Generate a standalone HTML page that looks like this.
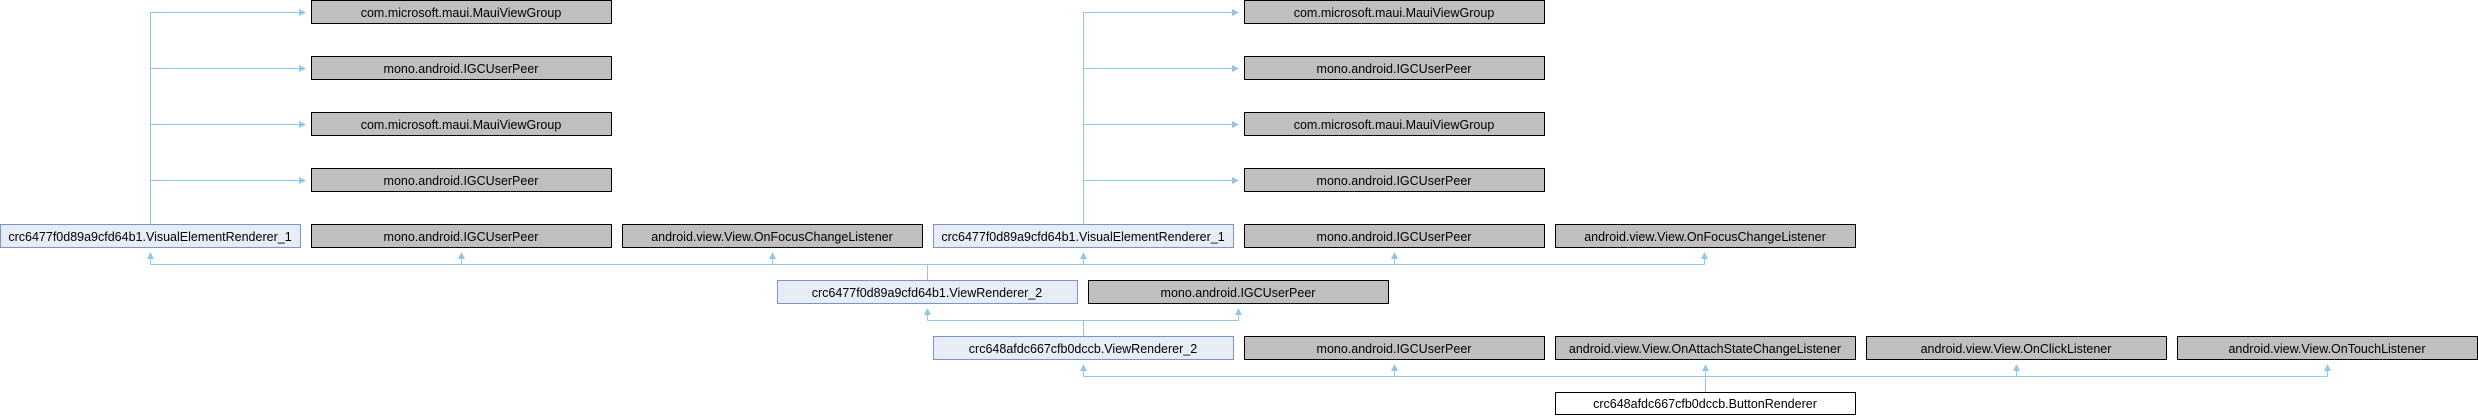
<!DOCTYPE html>
<html><head><meta charset="utf-8"><style>
html,body{margin:0;padding:0;background:#fff;}
svg{display:block;}
text{font-family:"Liberation Sans",sans-serif;font-size:12.5px;fill:#000;text-anchor:middle;}
</style></head><body>
<svg width="2478" height="416" viewBox="0 0 2478 416" xmlns="http://www.w3.org/2000/svg">
<defs>
<marker id="a" markerWidth="7" markerHeight="7" refX="6" refY="3.5" orient="auto" markerUnits="userSpaceOnUse">
<path d="M0,0 L7,3.5 L0,7 z" fill="#90c8ea"/>
</marker>
</defs>
<g stroke="#90c8ea" stroke-width="1" fill="none">
<path d="M150.5,224 V12.5 H305" marker-end="url(#a)"/>
<path d="M150.5,68.5 H305" marker-end="url(#a)"/>
<path d="M150.5,124.5 H305" marker-end="url(#a)"/>
<path d="M150.5,180.5 H305" marker-end="url(#a)"/>
<path d="M1083.5,224 V12.5 H1238" marker-end="url(#a)"/>
<path d="M1083.5,68.5 H1238" marker-end="url(#a)"/>
<path d="M1083.5,124.5 H1238" marker-end="url(#a)"/>
<path d="M1083.5,180.5 H1238" marker-end="url(#a)"/>
<path d="M150.5,264.5 H1704.5"/>
<path d="M927.5,280 V264.5"/>
<path d="M150.5,264.5 V253" marker-end="url(#a)"/>
<path d="M461.5,264.5 V253" marker-end="url(#a)"/>
<path d="M772.5,264.5 V253" marker-end="url(#a)"/>
<path d="M1083.5,264.5 V253" marker-end="url(#a)"/>
<path d="M1394.5,264.5 V253" marker-end="url(#a)"/>
<path d="M1704.5,264.5 V253" marker-end="url(#a)"/>
<path d="M927.5,320.5 H1238.5"/>
<path d="M1083.5,336 V320.5"/>
<path d="M927.5,320.5 V309" marker-end="url(#a)"/>
<path d="M1238.5,320.5 V309" marker-end="url(#a)"/>
<path d="M1083.5,376.5 H2327.5"/>
<path d="M1705.5,392 V376.5"/>
<path d="M1083.5,376.5 V365" marker-end="url(#a)"/>
<path d="M1394.5,376.5 V365" marker-end="url(#a)"/>
<path d="M1705.5,376.5 V365" marker-end="url(#a)"/>
<path d="M2016.5,376.5 V365" marker-end="url(#a)"/>
<path d="M2327.5,376.5 V365" marker-end="url(#a)"/>
</g>
<g stroke-width="1">
<g fill="#bfbfbf" stroke="#000">
<rect x="311.5" y="0.5" width="300" height="23"/>
<rect x="311.5" y="56.5" width="300" height="23"/>
<rect x="311.5" y="112.5" width="300" height="23"/>
<rect x="311.5" y="168.5" width="300" height="23"/>
<rect x="311.5" y="224.5" width="300" height="23"/>
<rect x="622.5" y="224.5" width="300" height="23"/>
<rect x="1244.5" y="0.5" width="300" height="23"/>
<rect x="1244.5" y="56.5" width="300" height="23"/>
<rect x="1244.5" y="112.5" width="300" height="23"/>
<rect x="1244.5" y="168.5" width="300" height="23"/>
<rect x="1244.5" y="224.5" width="300" height="23"/>
<rect x="1555.5" y="224.5" width="300" height="23"/>
<rect x="1088.5" y="280.5" width="300" height="23"/>
<rect x="1244.5" y="336.5" width="300" height="23"/>
<rect x="1555.5" y="336.5" width="300" height="23"/>
<rect x="1866.5" y="336.5" width="300" height="23"/>
<rect x="2177.5" y="336.5" width="300" height="23"/>
</g>
<g fill="#e8ecf6" stroke="#7c95c8">
<rect x="0.5" y="224.5" width="300" height="23"/>
<rect x="933.5" y="224.5" width="300" height="23"/>
<rect x="777.5" y="280.5" width="300" height="23"/>
<rect x="933.5" y="336.5" width="300" height="23"/>
</g>
<rect x="1555.5" y="392.5" width="300" height="22" fill="#fff" stroke="#000"/>
</g>
<g>
<text x="461" y="17">com.microsoft.maui.MauiViewGroup</text>
<text x="461" y="73">mono.android.IGCUserPeer</text>
<text x="461" y="129">com.microsoft.maui.MauiViewGroup</text>
<text x="461" y="185">mono.android.IGCUserPeer</text>
<text x="461" y="241">mono.android.IGCUserPeer</text>
<text x="772" y="241">android.view.View.OnFocusChangeListener</text>
<text x="1394" y="17">com.microsoft.maui.MauiViewGroup</text>
<text x="1394" y="73">mono.android.IGCUserPeer</text>
<text x="1394" y="129">com.microsoft.maui.MauiViewGroup</text>
<text x="1394" y="185">mono.android.IGCUserPeer</text>
<text x="1394" y="241">mono.android.IGCUserPeer</text>
<text x="1705" y="241">android.view.View.OnFocusChangeListener</text>
<text x="150" y="241">crc6477f0d89a9cfd64b1.VisualElementRenderer_1</text>
<text x="1083" y="241">crc6477f0d89a9cfd64b1.VisualElementRenderer_1</text>
<text x="927" y="297">crc6477f0d89a9cfd64b1.ViewRenderer_2</text>
<text x="1238" y="297">mono.android.IGCUserPeer</text>
<text x="1083" y="353">crc648afdc667cfb0dccb.ViewRenderer_2</text>
<text x="1394" y="353">mono.android.IGCUserPeer</text>
<text x="1705" y="353">android.view.View.OnAttachStateChangeListener</text>
<text x="2016" y="353">android.view.View.OnClickListener</text>
<text x="2327" y="353">android.view.View.OnTouchListener</text>
<text x="1705" y="408">crc648afdc667cfb0dccb.ButtonRenderer</text>
</g>
</svg>
</body></html>
